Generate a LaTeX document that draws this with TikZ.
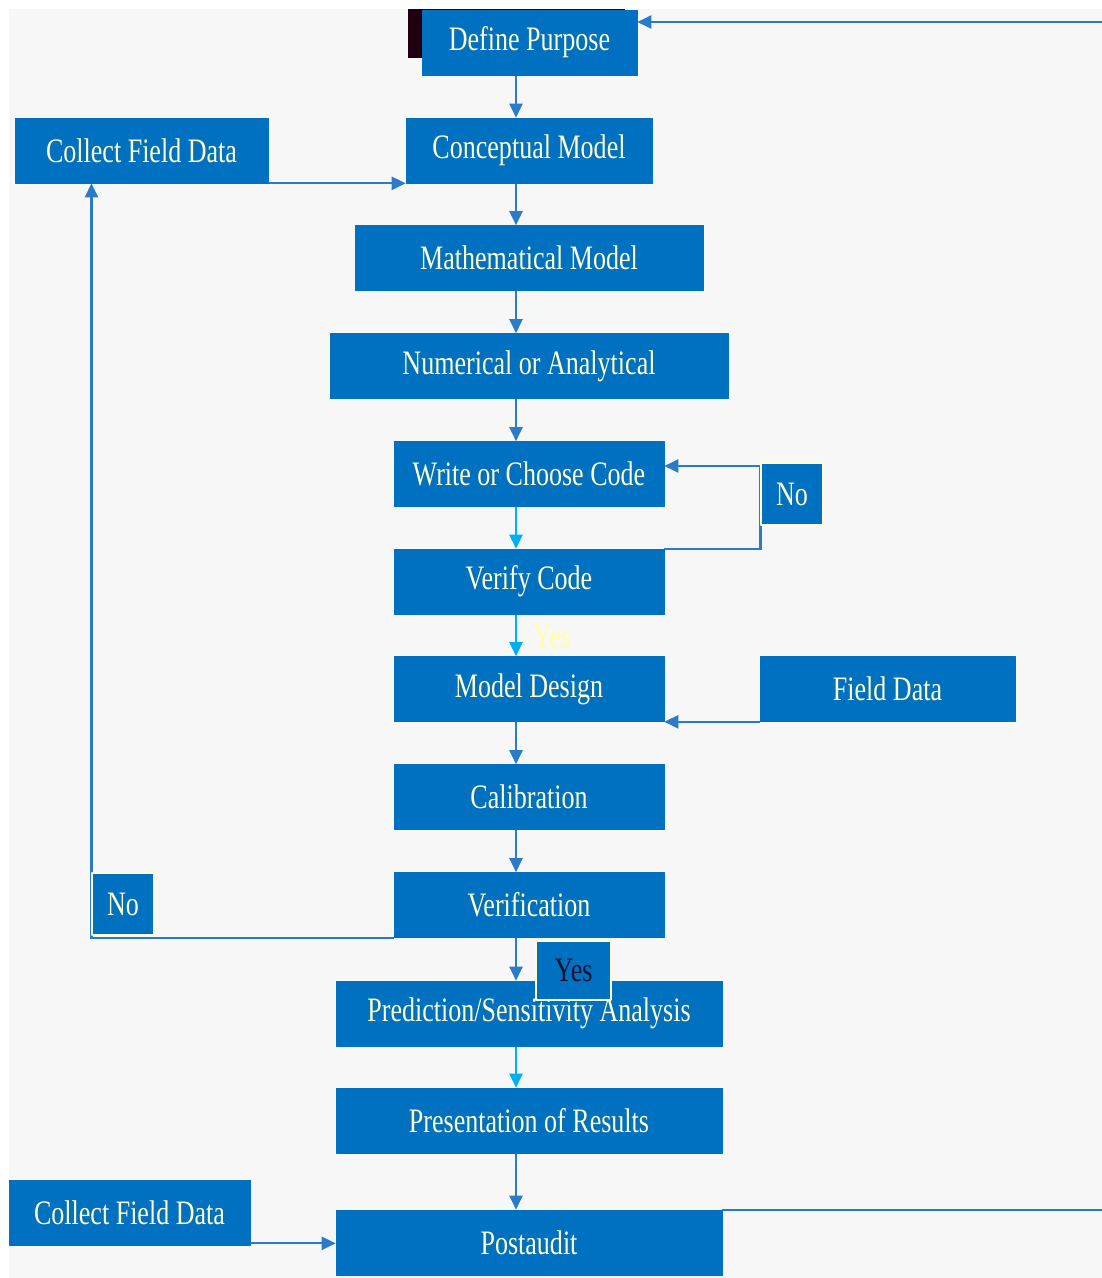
\documentclass[tikz,border=0pt]{standalone}
\usepackage{fontspec}
\setmainfont{Liberation Serif}[FakeStretch=0.76]
\usetikzlibrary{arrows.meta,backgrounds}
\definecolor{boxblue}{HTML}{0070C0}
\definecolor{cream}{HTML}{FFFFCC}
\definecolor{linkblue}{HTML}{2A7BC8}
\definecolor{liteblue}{HTML}{00B0F0}
\definecolor{paper}{HTML}{F7F7F7}
\definecolor{darkbox}{HTML}{200010}
\definecolor{yesink}{HTML}{1A1030}
\newcommand{\boxfont}{\fontsize{19.5}{21}\selectfont}
\tikzset{
  box/.style={fill=boxblue, draw=boxblue, text=cream, inner sep=0pt, minimum height=1.3cm, font=\boxfont},
  tag/.style={box, draw=cream, line width=0.6pt, minimum width=1.24cm, minimum height=1.24cm},
  link/.style={draw=linkblue, line width=1.2pt, -{Triangle[length=8pt,width=7.5pt]}},
  lite/.style={link, draw=liteblue}
}
\begin{document}
\begin{tikzpicture}[x=0.02cm,y=-0.02cm,line join=round]
\useasboundingbox (0,0) rectangle (1102,1278);
\node[box, minimum width=4.3cm] (purpose) at (529.5,42.5) {Define Purpose};
\node[box, minimum width=4.92cm] (concept) at (529,150.5) {Conceptual Model};
\node[box, minimum width=5.06cm] (collecta) at (141.5,150.5) {Collect Field Data};
\node[box, minimum width=6.96cm] (math) at (529,258) {Mathematical Model};
\node[box, minimum width=7.96cm] (numer) at (529,366) {Numerical or Analytical};
\node[box, minimum width=5.4cm] (write) at (529,474) {Write or Choose Code};
\node[tag] (nor) at (792,494) {No};
\node[box, minimum width=5.4cm] (verify) at (529,581.5) {Verify Code};
\node[box, minimum width=5.4cm] (design) at (529,689) {Model Design};
\node[box, minimum width=5.1cm] (field) at (887.5,689) {Field Data};
\node[box, minimum width=5.4cm] (calib) at (529,797) {Calibration};
\node[box, minimum width=5.4cm] (verif) at (529,905) {Verification};
\node[tag] (nol) at (123,904) {No};
\node[box, minimum width=7.72cm] (pred) at (529,1013.5) {Prediction/Sensitivity Analysis};
\node[tag, minimum width=1.5cm, minimum height=1.18cm, text=yesink] (yes) at (573.5,970.5) {Yes};
\node[box, minimum width=7.72cm] (pres) at (529,1120.5) {Presentation of Results};
\node[box, minimum width=4.82cm] (collectb) at (129.5,1212.5) {Collect Field Data};
\node[box, minimum width=7.72cm] (post) at (529,1242.5) {Postaudit};
\node[font=\boxfont, text=cream!80!yellow, inner sep=0pt] (yesv) at (552,636) {Yes};
\coordinate (spine) at (516,0);
\coordinate (edge) at (1106,0);
\coordinate (nojoin) at ([yshift=0.16cm]write.east);
\coordinate (loopin) at ([yshift=0.41cm]purpose.east);
\begin{scope}[on background layer]
\fill[paper] (9,9) rectangle (1102,1278);
\fill[darkbox] (408,9) rectangle (625,58);
\clip (9,9) rectangle (1102,1278);
\foreach \a/\b in {purpose/concept,concept/math,math/numer,numer/write,design/calib,calib/verif,verif/pred,pres/post}
  \draw[link] (\a.south -| spine) -- (\b.north -| spine);
\foreach \a/\b in {write/verify,verify/design,pred/pres}
  \draw[lite] (\a.south -| spine) -- (\b.north -| spine);
\draw[link] (collecta.south east) -- (concept.south west);
\draw[link] (verif.south west) -| (nol.west) -- (nol.west |- collecta.south);
\draw[link] (verify.north east) -| (nor.west |- nojoin) -- (nojoin);
\draw[link] (field.south west) -- (design.south east);
\draw[link] (collectb.south east) ++(0,-2) coordinate (cb) -- (cb -| post.west);
\draw[link] (post.north east) -- (post.north east -| edge) -- (edge |- loopin) -- (loopin);
\end{scope}
\end{tikzpicture}
\end{document}
